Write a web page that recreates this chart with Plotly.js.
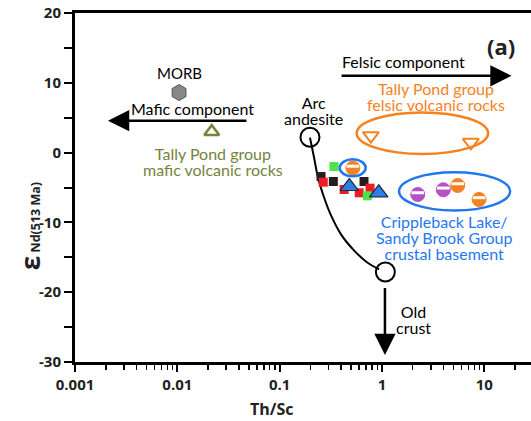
<!DOCTYPE html>
<html><head><meta charset="utf-8">
<script src="https://cdn.plot.ly/plotly-3.0.1.min.js"></script>
<style>html,body{margin:0;padding:0;background:#fff;}#c{width:531px;height:421px;}</style>
</head><body><div id="c"></div>
<script>
// ---- data ----
// Mixing curve (arc andesite -> old crust)
const curveX = [0.198, 0.217, 0.237, 0.272, 0.318, 0.398, 0.533, 0.714, 0.937];
const curveY = [2.14, -0.71, -3.57, -6.43, -9.0, -11.71, -14.0, -15.71, -16.71];
// end-members
const endX = [0.198, 1.08];
const endY = [2.2, -17.1];
// MORB
const morbX = [0.0104]; const morbY = [8.6];
// Tally Pond mafic
const maficX = [0.0217]; const maficY = [3.0];
// Tally Pond felsic
const felsicX = [0.78, 7.4]; const felsicY = [2.43, 1.47];
// samples: squares / triangles
const blackX = [0.254, 0.335, 0.668]; const blackY = [-3.43, -4.14, -4.14];
const redX = [0.267, 0.427, 0.60, 0.765]; const redY = [-4.24, -5.29, -5.76, -5.1];
const greenX = [0.34, 0.72]; const greenY = [-2.0, -6.19];
const triX = [0.48, 0.93]; const triY = [-4.86, -5.76];
// basement half-filled circles
const orangeX = [0.52, 5.5, 8.9]; const orangeY = [-2.2, -4.71, -6.71];
const purpleX = [2.24, 3.98]; const purpleY = [-6.0, -5.33];
// ellipses [x0,x1,y0,y1]
const ringSmall = [0.386, 0.694, -3.4, -0.97];
const ringFelsic = [0.567, 10.9, -0.19, 5.76];
const ringBase = [1.47, 17.9, -8.29, -2.81];
// axis ticks
const xTickVals = [0.001, 0.01, 0.1, 1, 10];
const xTickText = ['0.001', '0.01', '0.1', '1', '10'];
const yTickVals = [-30, -20, -10, 0, 10, 20];
const yTickText = ['-30', '-20', '-10', '0', '10', '20'];

const ORANGE = '#f5821f', BLUE = '#1f78f0', OLIVE = '#74843b', PURPLE = '#b84fc6';
const F = 'Open Sans, sans-serif';
const T = 'Lato, sans-serif';
const L = Math.log10;

function halfCircle(xs, ys, col) {
  return [
    {x: xs, y: ys, mode: 'markers',
     marker: {symbol: 'circle', size: 14, color: col, line: {color: col, width: 1}}},
    {x: xs, y: ys.map(v => v + 0.25), mode: 'markers',
     marker: {symbol: 'line-ew', size: 9, color: '#fff', line: {color: '#fff', width: 3}}}
  ];
}

const traces = [
  {x: curveX, y: curveY, mode: 'lines', line: {color: '#000', width: 2, shape: 'spline'}},
  {x: endX, y: endY, mode: 'markers', marker: {symbol: 'circle-open', size: 19, color: '#000', line: {color: '#000', width: 2}}},
  {x: morbX, y: morbY, mode: 'markers', marker: {symbol: 'hexagon', size: 16, color: '#888', line: {color: '#555', width: 1}}},
  {x: maficX, y: maficY, mode: 'markers', marker: {symbol: 'triangle-up-open', size: 13, color: OLIVE, line: {color: OLIVE, width: 2.5}}},
  {x: felsicX, y: felsicY, mode: 'markers', marker: {symbol: 'triangle-down-open', size: 14, color: ORANGE, line: {color: ORANGE, width: 2}}},
  {x: blackX, y: blackY, mode: 'markers', marker: {symbol: 'square', size: 9, color: '#231f20'}},
  {x: redX, y: redY, mode: 'markers', marker: {symbol: 'square', size: 9, color: '#ee1c25'}},
  {x: greenX, y: greenY, mode: 'markers', marker: {symbol: 'square', size: 9, color: '#4fe04a'}},
  {x: triX, y: triY, mode: 'markers', marker: {symbol: 'triangle-up', size: 16, color: '#2d7fe3', line: {color: '#1b2b44', width: 1.2}}},
  ...halfCircle(orangeX, orangeY, ORANGE),
  ...halfCircle(purpleX, purpleY, PURPLE)
].map(t => Object.assign({type: 'scatter', hoverinfo: 'skip', showlegend: false}, t));

function ell(r, col) {
  return {type: 'circle', xref: 'x', yref: 'y', x0: r[0], x1: r[1], y0: r[2], y1: r[3],
          line: {color: col, width: 2.5}, fillcolor: 'rgba(0,0,0,0)', layer: 'above'};
}

// multi-line text block: line spacing 16px (base size 12.3 * 1.3), glyphs at 16px
function block(px, py, lines, col, size) {
  const s = size || 16;
  return {xref: 'x', yref: 'y', x: L(px), y: py,
          text: lines.map(l => "<span style='font-size:" + s + "px'>" + l + "</span>").join('<br>'),
          showarrow: false, font: {family: T, size: 12.3, color: col || '#000'},
          xanchor: 'center', yanchor: 'middle', borderpad: 0};
}
function arrow(x0, y0, x1, y1) {
  return {xref: 'x', yref: 'y', axref: 'x', ayref: 'y', x: L(x1), y: y1, ax: L(x0), ay: y0,
          text: '', showarrow: true, arrowhead: 2, arrowsize: 1.7, arrowwidth: 2.5, arrowcolor: '#000'};
}

const annotations = [
  arrow(0.049, 4.57, 0.0021, 4.57),
  arrow(0.39, 11, 18.5, 11),
  arrow(1.07, -19.2, 1.07, -29.0),
  block(0.0104, 11.4, ['MORB'], '#000', 15),
  block(0.0141, 6.29, ['Mafic component']),
  block(0.0223, -1.29, ['Tally Pond group', 'mafic volcanic rocks'], OLIVE),
  block(0.212, 6.0, ['Arc', 'andesite']),
  block(1.64, 13.1, ['Felsic component']),
  block(3.4, 8.0, ['Tally Pond group', 'felsic volcanic rocks'], ORANGE),
  block(4.05, -12.14, ['Crippleback Lake/', 'Sandy Brook Group', 'crustal basement'], BLUE),
  block(2.05, -23.86, ['Old', 'crust']),
  {xref: 'x', yref: 'y', x: L(14.5), y: 15.3, text: '<b>(a)</b>', showarrow: false,
   font: {family: F, size: 22, color: '#222'}, xanchor: 'center', yanchor: 'middle'},
  {xref: 'paper', yref: 'paper', x: 0.43, y: -0.135, text: '<b>Th/Sc</b>', showarrow: false,
   font: {family: F, size: 16, color: '#222'}, xanchor: 'center', yanchor: 'middle'},
  {xref: 'paper', yref: 'paper', x: -0.098, y: 0.39, textangle: -90,
   text: "<b><span style='font-size:26px'>ε</span></b><b><span style='font-size:12.5px'> Nd(513 Ma)</span></b>",
   showarrow: false, font: {family: F, size: 12, color: '#222'}, xanchor: 'center', yanchor: 'middle'}
];

const layout = {
  width: 531, height: 421,
  margin: {l: 75, r: 0, t: 13, b: 59},
  paper_bgcolor: '#fff', plot_bgcolor: '#fff',
  showlegend: false,
  xaxis: {type: 'log', range: [-3, 1.457], tickvals: xTickVals, ticktext: xTickText,
          ticks: 'outside', ticklen: 7, tickwidth: 2, tickcolor: '#000',
          showline: true, linewidth: 3, linecolor: '#000', mirror: true,
          showgrid: false, zeroline: false,
          tickfont: {family: F, size: 15, color: '#222', weight: 'bold'},
          minor: {dtick: 'D1', ticks: 'outside', ticklen: 5, tickwidth: 1.5, tickcolor: '#000', showgrid: false}},
  yaxis: {range: [-30, 20], tickvals: yTickVals, ticktext: yTickText,
          ticks: 'outside', ticklen: 8, tickwidth: 2, tickcolor: '#000',
          showline: true, linewidth: 3, linecolor: '#000',
          showgrid: false, zeroline: false,
          tickfont: {family: F, size: 15, color: '#222', weight: 'bold'},
          minor: {dtick: 5, ticks: 'outside', ticklen: 8, tickwidth: 2, tickcolor: '#000', showgrid: false}},
  shapes: [ell(ringSmall, BLUE), ell(ringFelsic, ORANGE), ell(ringBase, BLUE)],
  annotations: annotations
};

Plotly.newPlot('c', traces, layout, {staticPlot: true});
</script>
</body></html>
